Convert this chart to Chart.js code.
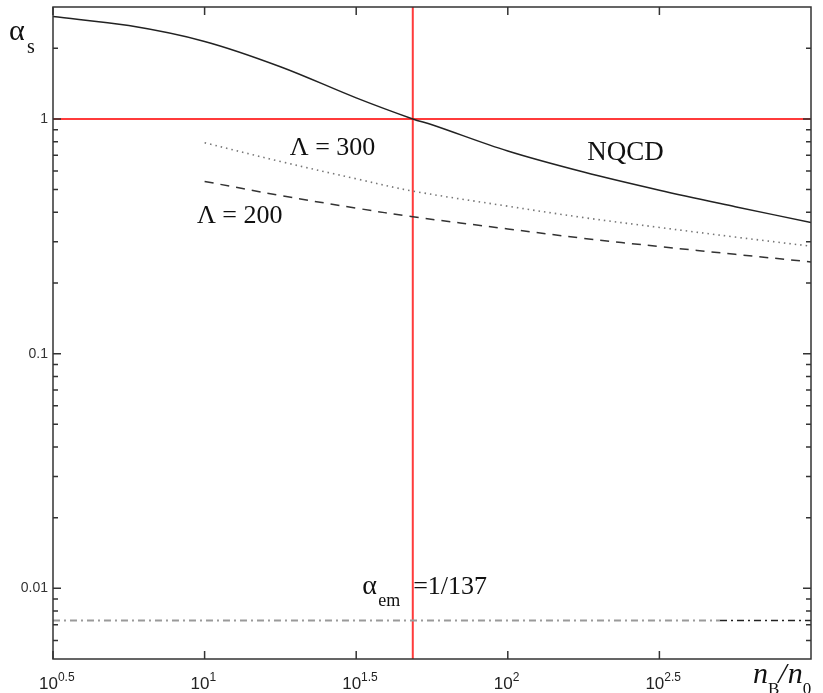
<!DOCTYPE html>
<html><head><meta charset="utf-8">
<script src="https://cdn.jsdelivr.net/npm/chart.js@4.4.0/dist/chart.umd.min.js"></script>
<style>html,body{margin:0;padding:0;background:#fff;} #wrap{width:823px;height:693px;position:relative;}</style>
</head><body><div id="wrap"><canvas id="c"></canvas></div>
<script>
// ---- data ----
const densityX = [3.162, 5.623, 10, 17.78, 31.62, 48.6, 56.23, 100, 177.8, 316.2, 562.3, 1000];
const nqcdAlpha = [2.73, 2.5, 2.14, 1.67, 1.23, 1.0, 0.945, 0.73, 0.594, 0.497, 0.423, 0.362];
const lambdaX = [10, 17.78, 31.62, 48.6, 100, 177.8, 316.2, 562.3, 1000];
const lambda300Alpha = [0.792, 0.659, 0.556, 0.493, 0.425, 0.38, 0.345, 0.314, 0.287];
const lambda200Alpha = [0.542, 0.472, 0.417, 0.383, 0.34, 0.31, 0.286, 0.265, 0.246];
const alphaEm = 0.0073;
const emGrayX = [3.162, 501];
const emBlackX = [501, 1000];
const crossX = 48.6;
const crossY = 1;
const xRange = [3.1623, 1000];
const yRange = [0.005, 3];
const xTickValues = [3.1623, 10, 31.623, 100, 316.23];
const xTickExps = ['0.5', '1', '1.5', '2', '2.5'];
const yTickValues = [0.01, 0.1, 1];
const yTickLabels = ['0.01', '0.1', '1'];
const yMinorTicks = [0.006, 0.007, 0.008, 0.009, 0.02, 0.03, 0.04, 0.05, 0.06, 0.07, 0.08, 0.09,
                     0.2, 0.3, 0.4, 0.5, 0.6, 0.7, 0.8, 0.9, 2];
const textLabels = [
  { text: 'Λ = 300', x: 19.1, y: 0.70 },
  { text: 'Λ = 200', x: 9.44, y: 0.36 },
  { text: 'NQCD', x: 182.8, y: 0.667 }
];
const emLabel = { x: 33.1, y: 0.00943, sub: 'em', rest: '=1/137' };

const pts = (xs, ys) => xs.map((v, i) => ({ x: v, y: ys[i] }));
const flat = (xs, v) => xs.map(x => ({ x: x, y: v }));

const SERIF = '"Liberation Serif", "DejaVu Serif", serif';
const SANS = '"Liberation Sans", Arial, sans-serif';

const framePlugin = {
  id: 'framePlugin',
  afterDatasetsDraw(chart) {
    const { ctx, chartArea: a, scales: { x, y } } = chart;
    ctx.save();
    ctx.strokeStyle = '#333';
    ctx.lineWidth = 1.5;
    ctx.setLineDash([]);
    ctx.strokeRect(a.left, a.top, a.right - a.left, a.bottom - a.top);
    ctx.beginPath();
    xTickValues.forEach(v => {
      const px = x.getPixelForValue(v);
      ctx.moveTo(px, a.bottom); ctx.lineTo(px, a.bottom - 8);
      ctx.moveTo(px, a.top); ctx.lineTo(px, a.top + 8);
    });
    yTickValues.forEach(v => {
      const py = y.getPixelForValue(v);
      ctx.moveTo(a.left, py); ctx.lineTo(a.left + 8, py);
      ctx.moveTo(a.right, py); ctx.lineTo(a.right - 8, py);
    });
    yMinorTicks.forEach(v => {
      const py = y.getPixelForValue(v);
      ctx.moveTo(a.left, py); ctx.lineTo(a.left + 5, py);
      ctx.moveTo(a.right, py); ctx.lineTo(a.right - 5, py);
    });
    ctx.stroke();

    // x tick labels 10^k
    ctx.fillStyle = '#222';
    ctx.textBaseline = 'alphabetic';
    ctx.textAlign = 'left';
    xTickValues.forEach((v, i) => {
      const px = x.getPixelForValue(v);
      ctx.font = '17px ' + SANS;
      ctx.fillText('10', px - 14, 689);
      const w = ctx.measureText('10').width;
      ctx.font = '12px ' + SANS;
      ctx.fillText(xTickExps[i], px - 14 + w, 681);
    });

    // curve labels
    ctx.fillStyle = '#111';
    textLabels.forEach(l => {
      ctx.font = (l.text === 'NQCD' ? '27px ' : '26px ') + SERIF;
      ctx.fillText(l.text, x.getPixelForValue(l.x), y.getPixelForValue(l.y));
    });
    // alpha_em label
    const ex = x.getPixelForValue(emLabel.x), ey = y.getPixelForValue(emLabel.y);
    ctx.font = '28px ' + SERIF;
    ctx.fillText('α', ex, ey);
    ctx.font = '18px ' + SERIF;
    ctx.fillText(emLabel.sub, ex + 16, ey + 12);
    ctx.font = '26px ' + SERIF;
    ctx.fillText(emLabel.rest, ex + 51, ey);

    // y axis title alpha_s
    ctx.font = '30px ' + SERIF;
    ctx.fillText('α', a.left - 44, 40);
    ctx.font = '20px ' + SERIF;
    ctx.fillText('s', a.left - 26, 53);

    // x axis title n_B / n_0
    let tx = a.right - 58;
    ctx.font = 'italic 30px ' + SERIF;
    ctx.fillText('n', tx, 683);
    tx += ctx.measureText('n').width;
    ctx.font = '17px ' + SERIF;
    ctx.fillText('B', tx, 694);
    tx += ctx.measureText('B').width - 1;
    ctx.font = 'italic 30px ' + SERIF;
    ctx.fillText('/', tx, 683);
    tx += ctx.measureText('/').width + 1;
    ctx.fillText('n', tx, 683);
    tx += ctx.measureText('n').width;
    ctx.font = '17px ' + SERIF;
    ctx.fillText('0', tx, 694);
    ctx.restore();
  }
};

const base = { pointRadius: 0, fill: false, borderCapStyle: 'butt' };

new Chart(document.getElementById('c'), {
  type: 'line',
  data: {
    datasets: [
      Object.assign({ label: 'NQCD', data: pts(densityX, nqcdAlpha), borderColor: '#222', borderWidth: 1.5, tension: 0.35 }, base),
      Object.assign({ label: 'Λ = 300', data: pts(lambdaX, lambda300Alpha), borderColor: '#777', borderWidth: 1.6, borderDash: [1.5, 4], tension: 0.35 }, base),
      Object.assign({ label: 'Λ = 200', data: pts(lambdaX, lambda200Alpha), borderColor: '#333', borderWidth: 1.5, borderDash: [9, 7], tension: 0.35 }, base),
      Object.assign({ label: 'αem gray', data: flat(emGrayX, alphaEm), borderColor: '#9a9a9a', borderWidth: 2, borderDash: [7, 4, 2, 4] }, base),
      Object.assign({ label: 'αem black', data: flat(emBlackX, alphaEm), borderColor: '#222', borderWidth: 1.6, borderDash: [7, 4, 2, 4] }, base),
      Object.assign({ label: 'vertical', data: [{ x: crossX, y: yRange[0] }, { x: crossX, y: yRange[1] }], borderColor: '#ff3b3b', borderWidth: 2 }, base),
      Object.assign({ label: 'horizontal', data: [{ x: xRange[0], y: crossY }, { x: xRange[1], y: crossY }], borderColor: '#ff3b3b', borderWidth: 2 }, base)
    ]
  },
  options: {
    responsive: true,
    maintainAspectRatio: false,
    devicePixelRatio: 1,
    animation: false,
    events: [],
    layout: { padding: { left: 0, top: 7, right: 12, bottom: 0 } },
    plugins: { legend: { display: false }, tooltip: { enabled: false } },
    scales: {
      x: {
        type: 'logarithmic', min: xRange[0], max: xRange[1],
        afterBuildTicks: s => { s.ticks = xTickValues.map(v => ({ value: v })); },
        afterFit: s => { s.height = 34; s.paddingLeft = 0; s.paddingRight = 0; },
        ticks: { display: false },
        grid: { display: false, drawTicks: false },
        border: { display: false }
      },
      y: {
        type: 'logarithmic', min: yRange[0], max: yRange[1],
        afterBuildTicks: s => { s.ticks = yTickValues.map(v => ({ value: v })); },
        afterFit: s => { s.width = 53; s.paddingTop = 0; s.paddingBottom = 0; },
        ticks: {
          padding: 5, color: '#333', font: { family: SANS, size: 14 },
          callback: (v) => { const i = yTickValues.indexOf(v); return i >= 0 ? yTickLabels[i] : ''; }
        },
        grid: { display: false, drawTicks: false },
        border: { display: false }
      }
    }
  },
  plugins: [framePlugin]
});
</script>
</body></html>
